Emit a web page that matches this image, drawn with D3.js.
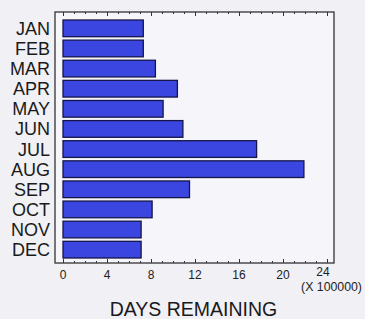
<!DOCTYPE html>
<html>
<head>
<meta charset="utf-8">
<script src="https://cdn.jsdelivr.net/npm/d3@7"></script>
<style>
  body { margin: 0; background: #f1f1f6; }
  svg { display: block; font-family: "Liberation Sans", Arial, sans-serif; }
</style>
</head>
<body>
<div id="viz"></div>
<script>
const width = 365;
const height = 319;
const frame = {left: 55, top: 12, right: 334, bottom: 263};

// Data (x 100000 days)
const months = ['JAN', 'FEB', 'MAR', 'APR', 'MAY', 'JUN', 'JUL', 'AUG', 'SEP', 'OCT', 'NOV', 'DEC'];
const daysRemaining = [7.3, 7.3, 8.4, 10.4, 9.1, 10.9, 17.6, 21.9, 11.5, 8.1, 7.1, 7.1];
const xTicks = [0, 4, 8, 12, 16, 20, 24];

const svg = d3.select('#viz')
  .append('svg')
  .attr('width', width)
  .attr('height', height);

svg.append('rect')
  .attr('width', width).attr('height', height)
  .attr('fill', '#f0f0f5');

const xScale = d3.scaleLinear()
  .domain([0, 24])
  .range([63, 327]);

const yScale = d3.scaleBand()
  .domain(months)
  .range([19, 259])
  .paddingInner(0.17)
  .paddingOuter(0.05);

// plot area
svg.append('rect')
  .attr('x', frame.left).attr('y', frame.top)
  .attr('width', frame.right - frame.left)
  .attr('height', frame.bottom - frame.top)
  .attr('fill', '#f5f5fa')
  .attr('stroke', '#333')
  .attr('stroke-width', 1.3);

// bars
svg.selectAll('rect.bar')
  .data(months)
  .join('rect')
  .attr('class', 'bar')
  .attr('x', xScale(0))
  .attr('y', d => yScale(d))
  .attr('width', (d, i) => xScale(daysRemaining[i]) - xScale(0))
  .attr('height', yScale.bandwidth())
  .attr('fill', '#3a46df')
  .attr('stroke', '#15154a')
  .attr('stroke-width', 1.3);

// ticks: top (pointing down) and bottom (pointing up)
const minor = d3.range(0, 25, 1);
const tickG = svg.append('g').attr('stroke', '#333').attr('stroke-width', 1);
minor.forEach(v => {
  const len = v % 4 === 0 ? 4 : 2;
  const x = Math.round(xScale(v)) + 0.5;
  tickG.append('line').attr('x1', x).attr('x2', x)
    .attr('y1', frame.top).attr('y2', frame.top + len);
  tickG.append('line').attr('x1', x).attr('x2', x)
    .attr('y1', frame.bottom).attr('y2', frame.bottom - len);
});

// tick labels
svg.selectAll('text.xt')
  .data(xTicks)
  .join('text')
  .attr('class', 'xt')
  .attr('x', d => d === 24 ? 323 : xScale(d))
  .attr('y', d => d === 24 ? 276 : 279)
  .attr('text-anchor', 'middle')
  .attr('font-size', 12)
  .attr('fill', '#222')
  .text(d => d);

svg.append('text')
  .attr('x', 331.5).attr('y', 291)
  .attr('text-anchor', 'middle')
  .attr('font-size', 12.3)
  .attr('fill', '#222')
  .text('(X 100000)');

// month labels
svg.selectAll('text.month')
  .data(months)
  .join('text')
  .attr('class', 'month')
  .attr('x', 50)
  .attr('y', d => yScale(d) + yScale.bandwidth() / 2)
  .attr('dy', '0.36em')
  .attr('text-anchor', 'end')
  .attr('font-size', 18)
  .attr('fill', '#1a1a1a')
  .text(d => d);

// axis title
svg.append('text')
  .attr('x', 193.5).attr('y', 316)
  .attr('text-anchor', 'middle')
  .attr('font-size', 19.5)
  .attr('fill', '#1a1a1a')
  .text('DAYS REMAINING');
</script>
</body>
</html>
